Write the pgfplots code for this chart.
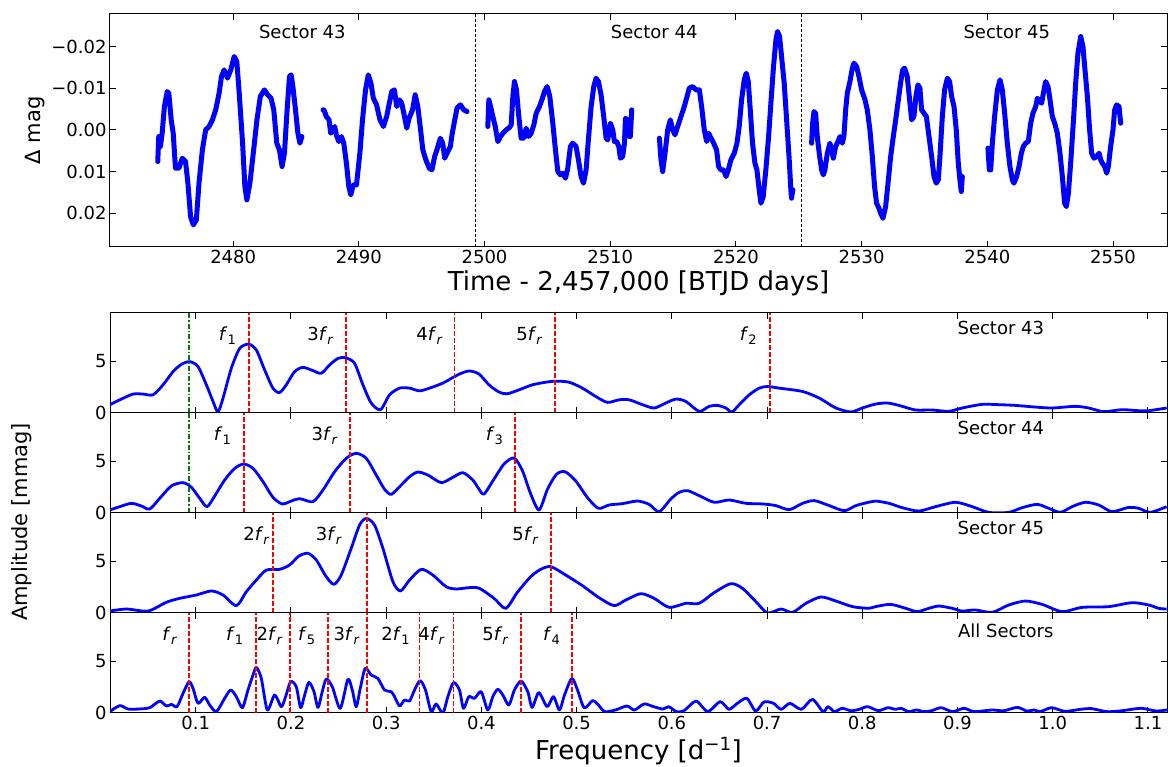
\documentclass[border=0pt]{standalone}
\usepackage{fontspec}
\setmainfont{DejaVu Sans}
\usepackage{pgfplots}
\pgfplotsset{compat=1.18}
\newcommand{\tfont}{\fontsize{18}{21}\selectfont}
\newcommand{\lfont}{\fontsize{26}{30}\selectfont}
\newcommand{\yfont}{\fontsize{21}{25}\selectfont}
\newcommand{\fsub}[1]{\textit{f}\raisebox{-0.35ex}{\fontsize{13}{13}\selectfont #1}}
\definecolor{vred}{rgb}{1,0,0}
\newcommand{\vl}[1]{\addplot[draw=vred, line width=1.9pt, dash pattern=on 4.5pt off 2.5pt, forget plot] coordinates {(#1,0) (#1,9.62)};}
\newcommand{\gl}[1]{\addplot[draw=green!50!black, line width=1.6pt, dash pattern=on 5pt off 2pt on 1.5pt off 2pt, forget plot] coordinates {(#1,0) (#1,9.62)};}
\pgfplotsset{
  base/.style={scale only axis, tick align=inside, major tick length=6pt,
    scaled x ticks=false, scaled y ticks=false,
    axis line style={line width=1pt}, major tick style={line width=1pt, black},
    tick label style={font=\tfont}, xlabel style={font=\lfont}, ylabel style={font=\yfont}},
  lc/.style={blue, line width=5pt, line join=round, line cap=round, forget plot},
  pg/.style={blue, line width=2.8pt, smooth, tension=0.45, line join=round, forget plot},
  pgram/.style={base, width=1057pt, height=100pt, xmin=0.01, xmax=1.12, ymin=0, ymax=9.62,
    xtick={0.1,0.2,0.3,0.4,0.5,0.6,0.7,0.8,0.9,1.0,1.1}, xticklabels={},
    ytick={0,5}, yticklabels={0,5}},
}
\begin{document}
\begin{tikzpicture}
\useasboundingbox (0,0) rectangle (1168pt,767pt);

% ---------------- light curve ----------------
\begin{axis}[base, at={(110pt,520pt)}, anchor=south west, width=1057pt, height=233pt,
  xmin=2470.2, xmax=2554.3, ymin=-0.0278, ymax=0.0281, y dir=reverse,
  xtick={2480,2490,2500,2510,2520,2530,2540,2550},
  xticklabels={2480,2490,2500,2510,2520,2530,2540,2550},
  ytick={-0.02,-0.01,0,0.01,0.02}, yticklabels={−0.02,−0.01,0.00,0.01,0.02},
  xlabel={Time - 2,457,000 [BTJD days]}, ylabel={Δ mag}]
\addplot[lc] table {
2474.00 0.0076
2474.08 0.0016
2474.21 0.0040
2474.35 0.0008
2474.53 -0.0056
2474.75 -0.0092
2474.88 -0.0088
2475.07 -0.0024
2475.23 0.0008
2475.41 0.0092
2475.68 0.0092
2475.95 0.0068
2476.21 0.0076
2476.40 0.0128
2476.61 0.0208
2476.83 0.0228
2477.07 0.0216
2477.28 0.0128
2477.55 0.0048
2477.81 0.0000
2478.08 -0.0008
2478.35 -0.0024
2478.61 -0.0048
2478.88 -0.0088
2479.07 -0.0128
2479.28 -0.0144
2479.55 -0.0124
2479.81 -0.0144
2480.08 -0.0176
2480.29 -0.0164
2480.48 -0.0088
2480.75 0.0032
2480.93 0.0136
2481.09 0.0168
2481.33 0.0128
2481.63 0.0048
2481.89 -0.0024
2482.16 -0.0080
2482.48 -0.0096
2482.75 -0.0084
2483.01 -0.0076
2483.23 -0.0048
2483.47 0.0032
2483.68 0.0048
2483.89 0.0088
2484.08 0.0056
2484.29 -0.0048
2484.48 -0.0128
2484.61 -0.0132
2484.75 -0.0104
2484.93 -0.0056
2485.15 0.0008
2485.31 0.0032
2485.47 0.0016
};
\addplot[lc] table {
2487.15 -0.0048
2487.23 -0.0048
2487.41 -0.0032
2487.63 -0.0024
2487.76 0.0008
2487.95 0.0000
2488.08 -0.0008
2488.21 0.0012
2488.40 0.0028
2488.61 0.0016
2488.80 0.0032
2489.01 0.0080
2489.20 0.0136
2489.36 0.0156
2489.55 0.0132
2489.81 0.0132
2490.08 0.0056
2490.29 -0.0024
2490.53 -0.0096
2490.75 -0.0132
2490.96 -0.0112
2491.15 -0.0076
2491.41 -0.0060
2491.68 -0.0024
2491.95 -0.0008
2492.21 -0.0032
2492.48 -0.0072
2492.61 -0.0092
2492.83 -0.0096
2493.01 -0.0056
2493.23 -0.0072
2493.41 -0.0064
2493.63 -0.0032
2493.81 -0.0004
2494.00 -0.0028
2494.27 -0.0048
2494.48 -0.0084
2494.69 -0.0056
2494.88 -0.0008
2495.09 0.0048
2495.33 0.0072
2495.60 0.0092
2495.81 0.0096
2496.03 0.0064
2496.21 0.0048
2496.48 0.0020
2496.67 0.0032
2496.83 0.0068
2497.01 0.0056
2497.28 0.0040
2497.41 0.0012
2497.63 -0.0024
2497.81 -0.0052
2498.08 -0.0060
2498.35 -0.0048
2498.61 -0.0044
};
\addplot[lc] table {
2500.26 -0.0008
2500.34 -0.0072
2500.48 -0.0056
2500.66 -0.0032
2500.85 -0.0008
2501.06 0.0028
2501.27 0.0016
2501.46 0.0008
2501.72 0.0000
2501.99 -0.0006
2502.12 -0.0012
2502.25 -0.0080
2502.38 -0.0116
2502.54 -0.0096
2502.70 -0.0040
2502.91 0.0020
2503.13 0.0020
2503.31 -0.0004
2503.50 0.0016
2503.71 0.0008
2503.92 -0.0012
2504.11 -0.0040
2504.37 -0.0056
2504.56 -0.0072
2504.77 -0.0092
2504.98 -0.0104
2505.19 -0.0080
2505.43 -0.0016
2505.64 0.0048
2505.83 0.0100
2506.04 0.0108
2506.23 0.0104
2506.44 0.0116
2506.62 0.0092
2506.83 0.0040
2507.02 0.0032
2507.28 0.0040
2507.47 0.0072
2507.68 0.0112
2507.87 0.0128
2508.08 0.0096
2508.26 0.0024
2508.48 -0.0056
2508.69 -0.0104
2508.87 -0.0124
2509.06 -0.0116
2509.27 -0.0084
2509.48 -0.0032
2509.67 0.0020
2509.80 0.0024
2510.01 -0.0016
2510.20 0.0000
2510.33 0.0028
2510.52 0.0028
2510.68 0.0040
2510.81 0.0068
2510.99 0.0064
2511.13 0.0032
2511.21 -0.0028
2511.34 -0.0024
2511.52 0.0016
2511.60 0.0016
2511.71 -0.0048
};
\addplot[lc] table {
2513.91 0.0020
2514.04 0.0072
2514.17 0.0100
2514.36 0.0056
2514.57 0.0000
2514.78 -0.0024
2514.97 0.0000
2515.15 0.0012
2515.36 -0.0008
2515.63 -0.0032
2515.89 -0.0056
2516.11 -0.0080
2516.29 -0.0100
2516.56 -0.0104
2516.82 -0.0096
2517.09 -0.0096
2517.27 -0.0056
2517.48 0.0000
2517.67 0.0028
2517.83 0.0008
2518.01 0.0020
2518.23 0.0032
2518.46 0.0048
2518.62 0.0088
2518.81 0.0096
2519.02 0.0096
2519.21 0.0112
2519.39 0.0096
2519.60 0.0072
2519.87 0.0056
2520.08 0.0032
2520.26 -0.0008
2520.45 -0.0072
2520.66 -0.0120
2520.82 -0.0136
2520.98 -0.0116
2521.14 -0.0048
2521.32 0.0032
2521.51 0.0080
2521.67 0.0096
2521.85 0.0144
2521.99 0.0176
2522.17 0.0160
2522.38 0.0096
2522.60 0.0016
2522.78 -0.0064
2522.99 -0.0152
2523.18 -0.0216
2523.31 -0.0236
2523.47 -0.0224
2523.63 -0.0176
2523.84 -0.0112
2524.05 -0.0016
2524.24 0.0072
2524.37 0.0144
2524.42 0.0164
2524.53 0.0144
};
\addplot[lc] table {
2526.02 0.0032
2526.10 -0.0016
2526.21 -0.0044
2526.34 -0.0040
2526.47 0.0016
2526.66 0.0064
2526.82 0.0096
2526.95 0.0108
2527.08 0.0096
2527.27 0.0056
2527.48 0.0032
2527.61 0.0048
2527.75 0.0068
2527.93 0.0040
2528.12 0.0028
2528.28 0.0016
2528.46 0.0032
2528.59 0.0016
2528.73 -0.0048
2528.86 -0.0088
2529.07 -0.0116
2529.26 -0.0148
2529.39 -0.0160
2529.60 -0.0152
2529.79 -0.0128
2530.00 -0.0096
2530.27 -0.0072
2530.45 -0.0048
2530.66 0.0000
2530.85 0.0064
2531.03 0.0136
2531.19 0.0176
2531.38 0.0188
2531.51 0.0200
2531.70 0.0212
2531.91 0.0184
2532.10 0.0128
2532.31 0.0064
2532.52 0.0016
2532.71 -0.0024
2532.92 -0.0072
2533.10 -0.0112
2533.26 -0.0144
2533.42 -0.0148
2533.63 -0.0128
2533.79 -0.0080
2533.98 -0.0024
2534.16 -0.0032
2534.32 -0.0080
2534.48 -0.0108
2534.64 -0.0100
2534.77 -0.0048
2534.96 -0.0040
2535.15 -0.0032
2535.36 0.0016
2535.57 0.0064
2535.76 0.0112
2535.94 0.0128
2536.10 0.0120
2536.23 0.0064
2536.42 -0.0032
2536.60 -0.0096
2536.82 -0.0124
2537.00 -0.0116
2537.16 -0.0080
2537.35 -0.0056
2537.53 0.0000
2537.69 0.0080
2537.82 0.0120
2537.93 0.0148
2538.01 0.0112
};
\addplot[lc] table {
2540.05 0.0044
2540.16 0.0096
2540.27 0.0096
2540.40 0.0032
2540.58 -0.0032
2540.80 -0.0096
2541.01 -0.0120
2541.19 -0.0096
2541.38 -0.0040
2541.59 0.0032
2541.80 0.0088
2541.99 0.0120
2542.12 0.0128
2542.33 0.0112
2542.52 0.0088
2542.71 0.0056
2542.86 0.0040
2543.05 0.0032
2543.26 0.0028
2543.45 -0.0016
2543.63 -0.0040
2543.85 -0.0056
2543.98 -0.0076
2544.19 -0.0068
2544.32 -0.0064
2544.46 -0.0088
2544.64 -0.0116
2544.83 -0.0104
2544.99 -0.0072
2545.17 -0.0032
2545.36 -0.0016
2545.57 0.0008
2545.78 0.0056
2545.97 0.0112
2546.15 0.0176
2546.29 0.0184
2546.45 0.0152
2546.63 0.0080
2546.84 -0.0016
2547.03 -0.0112
2547.21 -0.0184
2547.43 -0.0224
2547.61 -0.0200
2547.77 -0.0144
2547.96 -0.0080
2548.14 0.0000
2548.30 0.0056
2548.49 0.0068
2548.70 0.0064
2548.89 0.0056
2549.02 0.0072
2549.15 0.0080
2549.34 0.0088
2549.50 0.0104
2549.63 0.0088
2549.81 0.0040
2550.00 0.0000
2550.13 -0.0048
2550.29 -0.0060
2550.48 -0.0056
2550.61 -0.0016
};
\addplot[black, line width=1pt, dash pattern=on 3pt off 2pt, forget plot] coordinates {(2499.3,-0.0278) (2499.3,0.0281)};
\addplot[black, line width=1pt, dash pattern=on 3pt off 2pt, forget plot] coordinates {(2525.2,-0.0278) (2525.2,0.0281)};
\node[font=\tfont] at (axis cs:2485.5,-0.0235) {Sector 43};
\node[font=\tfont] at (axis cs:2513.5,-0.0235) {Sector 44};
\node[font=\tfont] at (axis cs:2541.55,-0.0235) {Sector 45};
\end{axis}

% ---------------- Sector 43 ----------------
\begin{axis}[pgram, at={(110pt,354pt)}, anchor=south west]
\addplot[pg] table {
0.0098 0.80
0.0203 1.27
0.0342 1.82
0.0447 1.82
0.0552 1.75
0.0657 2.71
0.0762 3.98
0.0850 4.68
0.0937 4.94
0.1024 4.46
0.1112 2.71
0.1182 1.11
0.1234 0.10
0.1287 1.43
0.1374 4.30
0.1462 6.21
0.1556 6.62
0.1637 6.05
0.1724 4.14
0.1811 2.39
0.1881 1.97
0.1951 2.71
0.2039 3.98
0.2126 4.39
0.2231 4.08
0.2319 3.82
0.2406 4.62
0.2494 5.25
0.2574 5.32
0.2668 4.78
0.2756 2.71
0.2843 0.96
0.2941 0.32
0.3036 1.75
0.3141 2.39
0.3246 2.39
0.3350 2.13
0.3455 2.39
0.3595 2.87
0.3700 3.41
0.3788 3.82
0.3875 4.04
0.3975 3.75
0.4080 2.71
0.4186 2.01
0.4273 1.85
0.4396 2.23
0.4536 2.71
0.4676 2.96
0.4781 3.06
0.4921 2.96
0.5061 2.39
0.5201 1.59
0.5324 1.02
0.5447 1.27
0.5552 1.27
0.5692 0.80
0.5814 0.48
0.5937 0.96
0.6042 1.34
0.6147 1.11
0.6287 0.16
0.6392 0.64
0.6480 0.73
0.6567 0.48
0.6630 0.10
0.6708 0.80
0.6813 1.75
0.6918 2.39
0.7005 2.55
0.7128 2.39
0.7373 2.07
0.7548 1.43
0.7723 0.48
0.7881 0.10
0.8000 0.48
0.8140 0.86
0.8262 0.96
0.8385 0.73
0.8559 0.29
0.8734 0.29
0.8909 0.16
0.9049 0.48
0.9259 0.83
0.9434 0.80
0.9608 0.73
0.9818 0.57
0.9993 0.48
1.0238 0.64
1.0378 0.48
1.0535 0.13
1.0727 0.32
1.0902 0.22
1.1007 0.22
1.1196 0.48
};
\gl{0.093}
\vl{0.1556}\vl{0.2574}\vl{0.3718}\vl{0.4774}\vl{0.7030}
\node[font=\tfont] at (axis cs:0.1333,7.45) {\fsub{1}};
\node[font=\tfont] at (axis cs:0.2309,7.45) {3\fsub{\textit{r}}};
\node[font=\tfont] at (axis cs:0.3455,7.45) {4\fsub{\textit{r}}};
\node[font=\tfont] at (axis cs:0.4505,7.45) {5\fsub{\textit{r}}};
\node[font=\tfont] at (axis cs:0.6803,7.45) {\fsub{2}};
\node[font=\tfont] at (axis cs:0.9455,8.2) {Sector 43};
\end{axis}

% ---------------- Sector 44 ----------------
\begin{axis}[pgram, at={(110pt,254pt)}, anchor=south west]
\addplot[pg] table {
0.0098 0.29
0.0203 0.61
0.0325 0.93
0.0430 0.67
0.0517 0.38
0.0622 1.41
0.0745 2.60
0.0867 2.92
0.0955 2.47
0.1042 1.41
0.1119 0.61
0.1199 1.63
0.1304 3.17
0.1409 4.29
0.1504 4.71
0.1602 4.29
0.1707 3.01
0.1811 1.51
0.1909 0.87
0.2004 1.15
0.2091 1.38
0.2231 1.09
0.2336 2.21
0.2459 3.97
0.2581 5.26
0.2686 5.74
0.2791 5.26
0.2896 3.65
0.2983 2.28
0.3053 1.79
0.3141 2.53
0.3246 3.49
0.3333 3.94
0.3438 3.65
0.3578 2.92
0.3700 3.43
0.3805 3.88
0.3910 3.17
0.3975 2.30
0.4028 1.83
0.4133 3.27
0.4238 4.71
0.4343 5.29
0.4431 4.07
0.4518 1.83
0.4606 0.29
0.4694 2.28
0.4788 3.72
0.4879 3.97
0.4991 3.08
0.5114 1.48
0.5229 0.45
0.5341 0.77
0.5482 0.90
0.5639 1.15
0.5762 0.83
0.5867 0.13
0.5990 1.35
0.6077 1.99
0.6165 2.15
0.6287 1.67
0.6445 1.03
0.6602 1.25
0.6778 0.93
0.6953 0.87
0.7093 0.71
0.7233 0.32
0.7373 0.93
0.7496 1.19
0.7653 0.71
0.7811 0.22
0.7933 0.71
0.8074 1.05
0.8140 1.15
0.8280 0.93
0.8420 0.51
0.8594 0.19
0.8769 0.61
0.8979 1.03
0.9154 0.61
0.9329 0.06
0.9538 0.06
0.9678 0.51
0.9836 0.83
0.9958 0.45
1.0080 0.06
1.0203 0.61
1.0343 1.03
1.0483 0.77
1.0622 0.13
1.0797 0.54
1.0902 0.45
1.1024 0.06
1.1196 0.61
};
\gl{0.093}
\vl{0.1504}\vl{0.2623}\vl{0.4350}
\node[font=\tfont] at (axis cs:0.1280,7.45) {\fsub{1}};
\node[font=\tfont] at (axis cs:0.2354,7.45) {3\fsub{\textit{r}}};
\node[font=\tfont] at (axis cs:0.4137,7.45) {\fsub{3}};
\node[font=\tfont] at (axis cs:0.9455,8.2) {Sector 44};
\end{axis}

% ---------------- Sector 45 ----------------
\begin{axis}[pgram, at={(110pt,154pt)}, anchor=south west]
\addplot[pg] table {
0.0098 0.19
0.0273 0.38
0.0500 0.19
0.0692 1.03
0.0832 1.41
0.1007 1.73
0.1164 2.12
0.1287 1.73
0.1427 0.71
0.1532 2.05
0.1637 3.17
0.1742 4.13
0.1881 4.20
0.1986 4.62
0.2084 5.48
0.2179 5.74
0.2266 5.10
0.2371 3.49
0.2452 2.76
0.2528 3.65
0.2633 6.22
0.2721 8.46
0.2791 9.10
0.2878 8.46
0.2966 6.22
0.3071 3.01
0.3151 2.12
0.3246 3.17
0.3368 4.20
0.3490 3.65
0.3630 2.53
0.3735 2.31
0.3875 2.44
0.3980 2.37
0.4133 1.41
0.4256 0.45
0.4378 1.99
0.4518 3.49
0.4623 4.20
0.4729 4.46
0.4886 3.65
0.5061 2.63
0.5236 1.47
0.5394 0.71
0.5517 1.25
0.5674 1.86
0.5814 1.41
0.5972 0.54
0.6147 0.93
0.6287 0.93
0.6445 1.96
0.6620 2.82
0.6742 2.37
0.6883 1.09
0.7005 0.00
0.7145 0.38
0.7268 0.06
0.7408 0.93
0.7566 1.54
0.7723 1.15
0.7898 0.61
0.8074 0.45
0.8140 0.61
0.8297 0.83
0.8455 0.45
0.8577 0.13
0.8699 0.45
0.8804 0.67
0.8944 0.45
0.9049 0.19
0.9189 0.29
0.9364 0.06
0.9538 0.77
0.9713 1.15
0.9888 0.83
1.0098 0.13
1.0308 0.54
1.0587 0.61
1.0832 0.99
1.1007 0.77
1.1112 0.45
1.1196 0.38
};
\vl{0.1811}\vl{0.2798}\vl{0.4729}
\node[font=\tfont] at (axis cs:0.1637,7.45) {2\fsub{\textit{r}}};
\node[font=\tfont] at (axis cs:0.2399,7.45) {3\fsub{\textit{r}}};
\node[font=\tfont] at (axis cs:0.4463,7.45) {5\fsub{\textit{r}}};
\node[font=\tfont] at (axis cs:0.9455,8.2) {Sector 45};
\end{axis}

% ---------------- All sectors ----------------
\begin{axis}[pgram, at={(110pt,54pt)}, anchor=south west,
  xticklabels={0.1,0.2,0.3,0.4,0.5,0.6,0.7,0.8,0.9,1.0,1.1},
  xlabel={Frequency [d\textsuperscript{−1}]}]
\addplot[pg] table {
0.0098 0.13
0.0203 0.71
0.0290 0.38
0.0395 0.38
0.0517 0.51
0.0622 1.15
0.0692 0.67
0.0745 0.83
0.0804 0.61
0.0867 1.89
0.0930 3.01
0.0972 2.37
0.1024 0.93
0.1094 1.51
0.1147 0.77
0.1217 0.13
0.1304 1.41
0.1367 2.21
0.1427 1.57
0.1490 0.51
0.1549 2.21
0.1602 3.65
0.1637 4.39
0.1689 3.33
0.1752 0.29
0.1829 1.73
0.1899 0.61
0.1944 1.57
0.1997 3.01
0.2056 2.53
0.2102 0.51
0.2144 1.73
0.2189 2.95
0.2242 2.05
0.2284 0.54
0.2329 2.05
0.2371 3.27
0.2434 2.53
0.2518 0.45
0.2598 3.24
0.2644 2.21
0.2686 0.61
0.2728 2.37
0.2780 4.29
0.2843 3.65
0.2913 3.33
0.2983 2.21
0.3053 2.05
0.3088 1.57
0.3141 0.67
0.3193 1.25
0.3246 1.15
0.3298 2.21
0.3357 3.11
0.3413 2.21
0.3473 0.13
0.3525 0.87
0.3595 0.00
0.3648 1.57
0.3707 2.92
0.3770 2.21
0.3812 0.45
0.3868 1.57
0.3928 1.41
0.3998 2.05
0.4067 0.29
0.4120 1.57
0.4172 2.28
0.4225 1.73
0.4288 0.77
0.4347 2.21
0.4417 3.08
0.4487 2.05
0.4533 0.54
0.4603 1.96
0.4690 0.61
0.4757 1.57
0.4820 0.29
0.4873 1.73
0.4950 3.33
0.5010 2.20
0.5080 0.50
0.5168 1.19
0.5228 0.77
0.5296 0.13
0.5408 0.29
0.5528 0.67
0.5608 0.29
0.5708 0.87
0.5808 0.61
0.5908 0.38
0.5968 0.61
0.6048 0.13
0.6128 0.22
0.6256 1.15
0.6376 0.13
0.6508 1.09
0.6600 0.35
0.6688 0.93
0.6788 1.41
0.6880 0.19
0.6968 1.06
0.7068 0.93
0.7148 0.35
0.7240 0.93
0.7360 0.35
0.7476 1.31
0.7588 0.13
0.7640 0.61
0.7708 0.13
0.7788 0.45
0.7880 0.22
0.7968 0.35
0.8056 0.61
0.8168 0.22
0.8268 0.51
0.8348 0.35
0.8408 0.45
0.8488 0.13
0.8568 0.29
0.8648 0.13
0.8728 0.22
0.8828 0.51
0.8948 0.13
0.9068 0.45
0.9168 0.13
0.9288 0.22
0.9368 0.29
0.9488 0.22
0.9628 0.54
0.9728 0.19
0.9808 0.29
0.9868 0.13
0.9988 0.51
1.0128 0.16
1.0288 0.35
1.0408 0.42
1.0568 0.13
1.0728 0.22
1.0928 0.45
1.1088 0.19
1.1240 0.35
};
\vl{0.0930}\vl{0.1630}\vl{0.1990}\vl{0.2389}\vl{0.2801}\vl{0.3350}\vl{0.3707}\vl{0.4417}\vl{0.4952}
\node[font=\tfont] at (axis cs:0.0727,7.45) {\fsub{\textit{r}}};
\node[font=\tfont] at (axis cs:0.1409,7.45) {\fsub{1}};
\node[font=\tfont] at (axis cs:0.1777,7.45) {2\fsub{\textit{r}}};
\node[font=\tfont] at (axis cs:0.2165,7.45) {\fsub{5}};
\node[font=\tfont] at (axis cs:0.2584,7.45) {3\fsub{\textit{r}}};
\node[font=\tfont] at (axis cs:0.3099,7.45) {2\fsub{1}};
\node[font=\tfont] at (axis cs:0.3476,7.45) {4\fsub{\textit{r}}};
\node[font=\tfont] at (axis cs:0.4148,7.45) {5\fsub{\textit{r}}};
\node[font=\tfont] at (axis cs:0.4736,7.45) {\fsub{4}};
\node[font=\tfont] at (axis cs:0.9507,7.9) {All Sectors};
\end{axis}

\node[font=\yfont, rotate=90] at (22pt,245pt) {Amplitude [mmag]};
\end{tikzpicture}
\end{document}
